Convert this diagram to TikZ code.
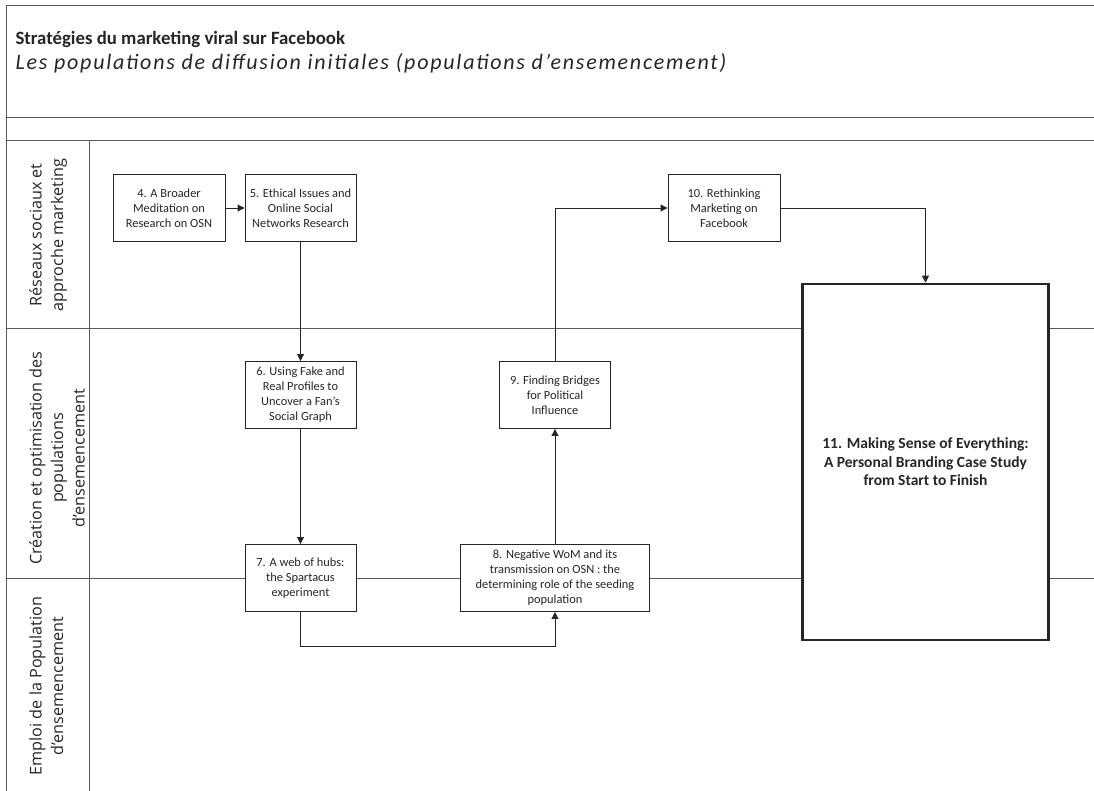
\documentclass[tikz,border=0pt]{standalone}
\usepackage{fontspec}
\setmainfont{Carlito}
\newfontfamily\lanefont{Open Sans}
\newfontfamily\subfont[LetterSpace=8]{Carlito}
\usetikzlibrary{arrows.meta}

\definecolor{txt}{HTML}{262626}
\definecolor{frame}{HTML}{595959}

\tikzset{
	box/.style={draw=black!85, fill=white, line width=0.9pt, align=center, text=txt,
		minimum width=111, minimum height=67, inner sep=2pt,
		font=\fontsize{12.4}{15}\selectfont},
	bigbox/.style={box, line width=2.6pt, minimum width=246, minimum height=356,
		font=\bfseries\fontsize{15.5}{18.5}\selectfont},
	lane/.style={rotate=90, anchor=north, align=center, inner sep=0pt, text=txt,
		font=\lanefont\fontsize{16.2}{21.5}\selectfont},
	arr/.style={draw=black!85, line width=0.9pt, -{Triangle[length=7pt,width=7pt]}},
	rule/.style={draw=frame, line width=1pt}
}

\begin{document}
\begin{tikzpicture}[x=1pt, y=-1pt]
	\useasboundingbox (0,0) rectangle (1094,791);

	% frame and lanes
	\draw[rule] (1094,6) -- (6,6) -- (6,791);
	\draw[rule] (6,118) -- (1094,118);
	\draw[rule] (6,141) -- (1094,141);
	\draw[rule] (89,141) -- (89,791);
	\draw[rule] (6,328) -- (1094,328);
	\draw[rule] (6,578) -- (1094,578);

	\node[anchor=base west, text=txt, font=\bfseries\fontsize{18.8}{24}\selectfont] (title) at (12,45) {Stratégies du marketing viral sur Facebook};
	\node[anchor=base west, text=txt, font=\subfont\itshape\fontsize{22}{24}\selectfont] (subtitle) at (12,70) {Les populations de diffusion initiales (populations d’ensemencement)};

	\node[lane] (lane1) at (29,235) {Réseaux sociaux et\\approche marketing};
	\node[lane] (lane2) at (29,458) {Création et optimisation des\\populations\\d’ensemencement};
	\node[lane] (lane3) at (29,686) {Emploi de la Population\\d’ensemencement};

	% chapters
	\node[box, minimum width=112] (b4) at (169,208) {4. A Broader\\Meditation on\\Research on OSN};
	\node[box] (b5) at (300.5,208) {5. Ethical Issues and\\Online Social\\Networks Research};
	\node[box, minimum width=112] (b10) at (724,208) {10. Rethinking\\Marketing on\\Facebook};
	\node[box] (b6) at (300.5,395) {6. Using Fake and\\Real Profiles to\\Uncover a Fan's\\Social Graph};
	\node[box] (b9) at (555,395) {9. Finding Bridges\\for Political\\Influence};
	\node[box] (b7) at (300.5,578) {7. A web of hubs:\\the Spartacus\\experiment};
	\node[box, minimum width=189] (b8) at (555,578) {8. Negative WoM and its\\transmission on OSN : the\\determining role of the seeding\\population};
	\node[bigbox] (b11) at (925.5,462) {11. Making Sense of Everything:\\A Personal Branding Case Study\\from Start to Finish};

	\draw[arr] (b4) -- (b5);
	\draw[arr] (b5) -- (b6);
	\draw[arr] (b6) -- (b7);
	\draw[arr] (b7.south) -- ++(0,34) -| (b8.south);
	\draw[arr] (b8) -- (b9);
	\draw[arr] (b9.north) |- (b10.west);
	\draw[arr] (b10.east) -| (b11.north);
\end{tikzpicture}
\end{document}
